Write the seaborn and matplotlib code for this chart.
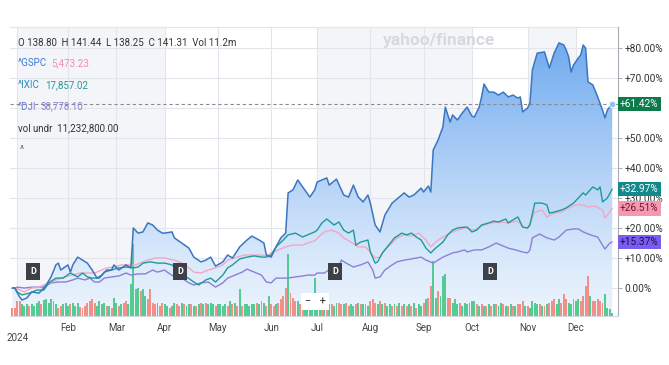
import numpy as np
import matplotlib
matplotlib.use("Agg")
import matplotlib.pyplot as plt
import matplotlib.transforms as mtrans
from matplotlib.colors import LinearSegmentedColormap
import seaborn as sns

sns.set_theme(style="white")
plt.rcParams['font.family'] = ['Roboto', 'DejaVu Sans']

# ---------------- data (x = trading-day index of 2024, 0 = Jan 2) ----------------
month_labels = ["Feb", "Mar", "Apr", "May", "Jun", "Jul", "Aug", "Sep", "Oct", "Nov", "Dec"]
month_idx = [21, 41, 61, 83, 105, 124, 146, 168, 188, 211, 231]

main_idx = [-2,-1,1,2,4,6,9,11,12,14,16,17,18,21,22,23,25,27,29,31,33,35,37,39,40,42,45,47,48,50,
            52,54,56,58,60,61,64,65,68,71,73,76,78,80,82,85,87,89,92,95,97,100,102,103,105,107,109,111,112,114,
            116,118,121,123,124,128,129,132,135,137,139,141,143,145,146,148,150,152,155,160,162,164,167,168,170,171,172,174,176,177,
            179,180,182,184,186,188,189,191,192,193,195,197,199,201,203,205,207,208,209,211,212,213,215,218,220,222,224,226,227,228,
            229,230,232,233,234,235,236,238,240,242,243,244,246]
main_pct = [0,0,-3.0,-4.0,-3.3,-1.3,-1.7,0,1.0,3.7,7.7,8.3,6.0,7.7,5.3,7.7,10.3,9.3,8.3,6.0,3.3,4.3,6.0,6.0,7.7,6.0,7.7,6.7,20.0,18.3,
            18.7,21.7,21.0,19.3,18.3,18.3,18.7,16.7,15.0,13.3,10.3,8.7,9.3,10.3,7.3,8.7,11.0,10.0,13.7,16.0,17.3,16.0,15.0,11.0,10.3,13.7,16.7,18.3,31.7,32.7,
            36.0,33.7,30.3,32.7,35.3,36.7,34.3,36.3,31.0,30.3,34.3,30.3,28.7,31.0,28.3,21.0,18.7,24.3,28.3,31.7,30.3,31.0,33.3,32.0,34.0,32.0,46.0,49.3,53.7,60.3,
            55.3,57.7,56.0,58.3,60.3,57.3,57.0,60.3,63.7,68.0,65.3,65.3,64.3,65.3,63.7,64.3,63.3,63.7,58.7,60.0,61.7,72.7,78.3,78.7,73.3,78.3,81.7,81.0,79.3,77.0,
            72.0,74.3,76.7,77.7,81.0,80.0,68.7,67.7,63.7,59.3,56.7,59.3,61.42]

ixic_idx = [-2,-1,0,2,5,8,11,13,16,19,22,25,27,29,31,34,36,39,42,45,48,50,52,55,58,61,64,67,70,73,
            75,78,80,82,85,87,89,92,95,98,101,103,105,107,110,112,115,118,120,123,124,126,128,131,133,135,137,139,140,142,
            145,146,148,149,151,153,156,159,161,163,165,167,169,171,173,176,178,180,182,185,186,188,190,192,195,197,199,202,203,205,
            207,209,211,212,214,217,219,220,222,225,227,230,232,234,235,238,240,241,242,244,246]
ixic_pct = [0,0,-1.3,-2.3,-1.7,-0.7,-0.7,1.7,3.3,3.3,5.0,3.7,5.0,3.7,3.3,3.3,5.3,6.0,6.7,7.0,6.7,7.0,8.3,8.7,8.3,8.3,7.7,5.3,3.7,2.0,
            1.0,2.7,3.3,2.0,4.3,6.7,7.7,9.7,10.3,10.7,10.3,10.3,11.0,13.7,16.0,17.7,18.3,17.0,17.7,18.7,19.3,21.7,23.0,21.0,22.0,19.3,18.3,19.3,14.3,15.3,
            16.0,12.0,8.3,8.7,11.7,13.7,16.7,18.3,17.7,18.3,17.0,16.0,13.3,11.7,13.3,15.3,17.7,19.3,20.0,20.3,20.3,18.7,19.3,21.0,21.7,22.3,22.0,23.0,21.7,22.7,
            23.7,20.3,20.0,21.0,28.3,28.3,27.7,25.0,25.3,26.0,26.7,28.3,30.0,31.7,31.0,33.7,32.7,33.7,28.7,30.0,32.97]

gspc_idx = [-2,-1,0,3,6,9,11,14,18,21,23,26,29,32,35,37,40,43,46,49,52,54,57,61,65,68,71,73,76,79,
            82,85,87,91,94,97,101,103,105,108,111,114,118,120,123,125,127,130,133,135,138,141,144,146,148,150,152,155,157,160,
            163,166,169,171,173,176,180,182,185,186,189,192,196,200,203,207,209,211,212,214,217,219,222,225,228,231,234,236,239,242,
            243,244,246]
gspc_pct = [0,0,-0.3,-1.3,0,0.3,1.0,2.0,3.3,4.0,4.3,5.0,5.0,5.0,6.0,6.7,7.0,7.7,7.7,7.7,8.7,9.3,10.0,10.0,9.3,8.3,6.7,5.3,5.0,6.0,
            6.7,7.7,9.3,10.3,11.0,11.0,11.0,10.7,11.7,12.7,13.7,14.3,14.3,15.0,15.7,17.3,18.7,19.3,18.3,16.7,15.3,13.7,13.7,12.0,10.0,10.3,12.7,15.0,16.7,17.7,
            17.3,18.3,16.0,13.7,15.3,17.0,18.7,19.3,20.0,20.0,19.3,20.7,21.7,22.0,21.7,22.3,20.3,20.0,21.7,25.3,26.0,23.7,25.0,25.3,26.7,27.7,27.7,27.0,27.3,26.0,
            23.3,24.3,26.51]

dji_idx = [-2,-1,0,3,6,9,11,14,17,20,23,25,28,30,32,34,36,39,42,45,47,50,53,56,58,61,62,65,68,71,
           73,76,79,82,85,87,90,93,95,98,101,103,105,107,110,112,115,118,120,123,124,127,130,133,134,136,139,142,145,147,
           148,150,152,155,157,160,163,167,169,172,174,176,180,182,185,186,189,192,195,198,200,203,206,209,211,212,213,216,219,222,
           224,227,230,232,234,237,240,242,243,245,246]
dji_pct = [0,0,0.3,0,0.3,0.3,0.3,1.7,2.0,2.0,2.7,3.3,2.7,3.3,2.0,2.0,3.3,3.7,4.0,5.0,4.3,4.7,4.7,6.0,5.3,6.0,5.3,3.7,3.3,1.7,
           1.0,1.7,2.0,0.3,1.7,3.3,4.3,5.3,6.3,5.3,4.3,2.0,1.7,3.3,3.3,3.3,3.7,4.0,4.3,4.3,5.0,5.0,6.7,7.0,9.3,8.3,7.0,7.7,8.7,6.0,
           3.3,3.7,6.0,7.7,8.7,9.3,9.7,10.3,9.3,8.3,9.3,10.3,11.7,12.0,12.7,12.0,12.7,12.7,13.7,15.0,14.3,13.3,12.7,12.0,11.7,12.7,16.7,18.0,16.7,16.0,
           17.0,19.3,19.7,19.7,18.7,17.7,17.0,14.3,13.0,15.0,15.37]

# daily volume (millions), starting at index -2
vol_m = [25,25,45,45,35,30,35,30,35,30, 38,45,35,48,50,40,50,45,35,25, 30,35,40,30,35,38,30,40,28,25,
         30,40,45,50,40,30,45,35,40,30, 30,25,55,40,30,35,40,45,35,95, 215,80,85,75,80,60,50,80,40,35,
         40,30,40,35,30,25,30,40,35,30, 40,35,30,35,35,30,30,35,40,35, 38,35,40,35,30,35,35,30,35,30,
         45,35,40,30,80,30,35,35,30,35, 35,40,35,45,40,30,60,35,30,35, 40,50,60,85,185,70,55,45,45,35,
         30,35,30,35,30,115,30,35,40,35, 50,35,35,30,40,40,35,35,40,30, 35,30,35,40,35,35,35,30,45,50,
         40,35,45,35,40,30,35,30,35,30, 40,30,35,30,35,30,40,25,35,30, 40,50,55,90,165,55,75,60,120,125,
         55,55,40,50,35,40,30,40,35,40, 45,45,35,30,35,30,30,35,30,35, 35,30,40,35,30,30,35,30,30,35,
         35,45,30,30,25,45,40,35,35,30, 30,35,40,45,50,35,50,40,65,50, 40,35,50,45,50,45,60,90,120,60,
         45,45,50,45,40,65,25,20,10]
vol_dir = ("dddduuuduu" "uuduuuuuud" "duuuduuudd" "ddddduuuud" "uduududduu" "uuuduudddd"
           "udduuduudd" "uduudududu" "duuuduuuud" "udududuuuu" "ududududdu" "ddddudddud"
           "duuuuuuudu" "duduuddudd" "uududududd" "dududuudud" "ududududuu" "dudduuduuu"
           "dduuuduuuu" "uududududu" "duudududud" "dduduuuudu" "duddduuddd" "uuduuddddu" "ddddduuuu")
n_vol = min(len(vol_m), len(vol_dir))
vol_idx = list(range(-2, -2 + n_vol))

end_labels = ["+61.42%", "+32.97%", "+26.51%", "+15.37%"]
end_values = [61.42, 32.97, 26.51, 15.37]
div_idx = [6.5, 67.5, 131.5, 195.5]

# ---------------- layout ----------------
W, H = 669, 365
L, R, T, B = 10, 618, 27, 316
XMIN, XMAX = -2.98, 248.4
YMIN, YMAX = -9.33, 87.0

fig = plt.figure(figsize=(W / 100, H / 100), dpi=100)
fig.patch.set_facecolor("white")
rect = [L / W, 1 - B / H, (R - L) / W, (B - T) / H]
ax_bg = fig.add_axes(rect)
ax_vol = fig.add_axes(rect)
ax = fig.add_axes(rect)
ax_vol.patch.set_visible(False)
ax.patch.set_visible(False)
ax_bg.set_facecolor("white")

# background bands and grid
for a0, a1 in [(0, 61), (124, 188), (211, 231)]:
    ax_bg.axvspan(a0, a1, color="#f3f5f8", lw=0, zorder=0)
for m in [0] + month_idx:
    ax_bg.axvline(m, color="#e2e6ec", lw=0.8, zorder=0.5)
for v in range(0, 90, 10):
    ax_bg.axhline(v, color="#e2e6ec", lw=0.8, zorder=0.5)

# gradient fill under the main line
poly = ax_bg.fill_between(main_idx, main_pct, YMIN, color="none", lw=0)
grad = np.linspace(0, 1, 256).reshape(-1, 1)
cmap = LinearSegmentedColormap.from_list(
    "fill", [(0, "#edf4fd"), (0.2, "#d9e9fb"), (0.5, "#b2d1f7"), (0.8, "#86b8f2"), (1, "#6ba6ee")])
img = ax_bg.imshow(grad, extent=[XMIN, XMAX, YMIN, YMAX], origin="lower",
                   aspect="auto", cmap=cmap, zorder=1)
img.set_clip_path(poly.get_paths()[0], transform=ax_bg.transData)

# volume bars
colors = ["#4cc98c" if d == "u" else "#f28b82" for d in vol_dir[:n_vol]]
ax_vol.bar(vol_idx, vol_m[:n_vol], width=0.8, color=colors, lw=0, alpha=0.95)
ax_vol.set_ylim(0, 867)
ax_vol.axis("off")

# lines
series = [
    (dji_idx, dji_pct, "#8c80d6", 1.0),
    (gspc_idx, gspc_pct, "#f1a7c5", 1.0),
    (ixic_idx, ixic_pct, "#1f9a98", 1.0),
    (main_idx, main_pct, "#3c76c0", 1.1),
]
for xi, yi, col, lw in series:
    sns.lineplot(x=xi, y=yi, ax=ax, color=col, lw=lw, estimator=None, sort=False, legend=False)

ax.axhline(main_pct[-1], color="#8a8a8a", lw=0.8, ls=(0, (3, 2.5)), zorder=1)
ax.scatter([main_idx[-1]], [main_pct[-1]], s=22, c="#8ec3f5", edgecolors="white", linewidths=0.6, zorder=6)

for a in (ax_bg, ax_vol, ax):
    a.set_xlim(XMIN, XMAX)
ax_bg.set_ylim(YMIN, YMAX)
ax.set_ylim(YMIN, YMAX)

# axes styling
ax_bg.set_xticks([]); ax_bg.set_yticks([])
for s in ["left", "right", "bottom"]:
    ax_bg.spines[s].set_visible(False)
ax_bg.spines["top"].set_color("#e3e6ea")
ax_bg.spines["top"].set_linewidth(0.8)

ax.yaxis.tick_right()
yt = list(range(0, 90, 10))
ax.set_yticks(yt)
# the +60.00% label sits under the +61.42% value box in the reference
ax.set_yticklabels(["0.00%" if v == 0 else ("" if v == 60 else f"+{v}.00%") for v in yt])
ax.set_xticks([0] + month_idx)
ax.set_xticklabels([""] + month_labels)
ax.tick_params(axis="x", length=3, width=0.7, color="#c4c8cc", labelsize=7, labelcolor="#444", pad=2)
ax.tick_params(axis="y", length=3, width=0.7, color="#a8adb3", labelsize=7.3, labelcolor="#333", pad=1.5)
ax.set_xlabel(""); ax.set_ylabel("")
for s in ["left", "top"]:
    ax.spines[s].set_visible(False)
ax.spines["bottom"].set_color("#d5d8dc")
ax.spines["bottom"].set_linewidth(0.8)
ax.spines["right"].set_color("#a8adb3")
ax.spines["right"].set_linewidth(0.8)

ax.annotate("2024", xy=(0, 0), xycoords=("data", "axes fraction"), xytext=(0, -15.5),
            textcoords="offset points", ha="center", va="center", fontsize=7, color="#444")

# end value boxes on right
box_styles = [("#0e7a4c", "white"), ("#14898b", "white"), ("#f39ab0", "#7a1030"), ("#7b5cf0", "#1b1050")]
tr = mtrans.blended_transform_factory(ax.transAxes, ax.transData)
for lab, val, (bg, fg) in zip(end_labels, end_values, box_styles):
    ax.text(1.003, val, lab, transform=tr, ha="left", va="center", fontsize=7.3, color=fg,
            clip_on=False, zorder=10,
            bbox=dict(boxstyle="square,pad=0.22", fc=bg, ec="none"))

# dividend markers
trd = mtrans.blended_transform_factory(ax.transData, ax.transAxes)
for d in div_idx:
    ax.text(d, 0.154, "D", transform=trd, ha="center", va="center", fontsize=6.5, color="white",
            fontweight="bold", zorder=8, bbox=dict(boxstyle="square,pad=0.45", fc="#3c4047", ec="none"))

# zoom control
fig.text(315 / W, 1 - 301.5 / H, "\u2212   +", ha="center", va="center", fontsize=8, color="#333",
         bbox=dict(boxstyle="square,pad=0.3", fc="white", ec="none"), zorder=9)

# watermark
fig.text(439 / W, 1 - 40 / H, "yahoo/finance", ha="center", va="center", fontsize=12.5,
         fontweight="bold", color="#d6d9de")

# legend texts
def ftxt(x, y, s, c, size=7):
    fig.text(x / W, 1 - y / H, s, ha="left", va="center", fontsize=size, color=c)

ftxt(18, 42.7, "O 138.80  H 141.44  L 138.25  C 141.31  Vol 11.2m", "#333333")
ftxt(18, 63.3, "^GSPC", "#3a78d6")
ftxt(51.5, 63.3, "5,473.23", "#f08fb0")
ftxt(18, 85, "^IXIC", "#2a8fb8")
ftxt(45, 85, "17,857.02", "#1f9a98")
ftxt(18, 106.5, "^DJI", "#6f78d8")
ftxt(40.5, 106.5, "38,778.10", "#8c80d6")
ftxt(18, 128.3, "vol undr  11,232,800.00", "#333333")
ftxt(19.5, 150, "^", "#666666", size=7)

fig.savefig("out.png", dpi=100, facecolor="white")
